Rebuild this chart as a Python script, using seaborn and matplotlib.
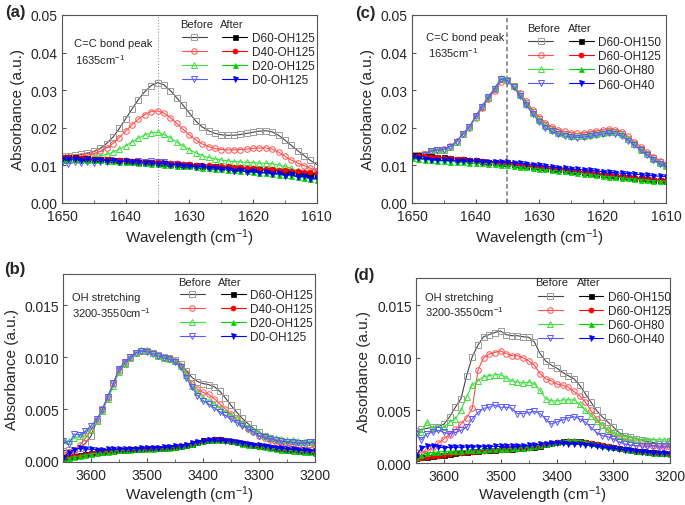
import matplotlib
matplotlib.use("Agg")
import matplotlib.pyplot as plt
import seaborn as sns
import numpy as np
from matplotlib.ticker import MultipleLocator, FormatStrFormatter

# wavenumber grids (cm-1)
wn_cc = np.arange(1650, 1609, -1)
wn_oh = np.arange(3650, 3199, -10)

# C=C region, absorbance in units of 1e-4
a_before_d60 = [125, 126, 127, 129, 132, 137, 145, 158, 175, 198, 224, 250, 275, 296, 312, 320, 314, 299, 280, 260, 239,
                218, 202, 192, 185, 181, 180, 180, 182, 185, 188, 191, 192, 189, 180, 167, 153, 139, 126, 113, 102]
a_before_d40 = [120, 121, 122, 124, 127, 131, 137, 146, 158, 174, 191, 208, 223, 235, 243, 245, 239, 227, 212, 196, 181,
                168, 157, 150, 145, 142, 141, 141, 142, 143, 145, 146, 146, 143, 135, 124, 114, 106, 99, 92, 86]
a_before_d20 = [117, 117, 118, 119, 120, 122, 125, 129, 135, 143, 152, 162, 172, 181, 187, 188, 182, 173, 162, 152, 142,
                133, 126, 121, 117, 114, 112, 110, 109, 108, 107, 106, 105, 104, 101, 97, 92, 86, 81, 77, 73]
a_before_d0 = [107, 104, 108, 105, 109, 106, 110, 108, 111, 109, 112, 110, 112, 110, 111, 109, 108, 104, 104, 100, 100,
               96, 96, 92, 93, 89, 90, 86, 87, 83, 84, 80, 81, 77, 78, 74, 75, 71, 72, 68, 69]
a_after_d60 = [122, 121, 121, 120, 119, 118, 117, 116, 115, 113, 112, 111, 110, 109, 108, 106, 105, 104, 103, 102, 101,
               100, 99, 98, 97, 96, 95, 94, 92, 91, 90, 89, 88, 87, 86, 84, 83, 81, 80, 78, 76]
a_after_d40 = [121, 121, 120, 120, 119, 118, 117, 116, 115, 114, 113, 112, 111, 110, 109, 108, 107, 106, 105, 104, 103,
               102, 101, 100, 99, 98, 97, 96, 95, 94, 93, 91, 90, 89, 88, 87, 86, 84, 83, 81, 79]
a_after_d20 = [117, 117, 116, 116, 115, 114, 113, 112, 111, 110, 109, 108, 106, 105, 104, 103, 102, 100, 99, 98, 97,
               95, 94, 93, 91, 90, 88, 87, 85, 84, 82, 80, 79, 77, 75, 74, 72, 70, 67, 64, 62]
a_after_d0 = [117, 116, 117, 115, 116, 114, 115, 112, 113, 110, 111, 108, 109, 105, 107, 103, 105, 100, 102, 98, 99,
              95, 97, 92, 94, 89, 91, 86, 88, 82, 85, 79, 82, 76, 79, 72, 76, 68, 72, 64, 66]

c_before_oh150 = [127, 128, 129, 139, 141, 142, 150, 163, 183, 201, 228, 255, 280, 302, 330, 326, 310, 289, 265, 242, 222,
                  206, 196, 189, 184, 180, 178, 180, 182, 185, 188, 190, 189, 183, 170, 157, 143, 130, 119, 108, 100]
c_before_oh125 = [126, 127, 129, 138, 141, 143, 151, 164, 182, 200, 226, 252, 276, 298, 322, 323, 312, 293, 270, 248, 229,
                  213, 202, 195, 190, 186, 185, 186, 188, 191, 194, 196, 195, 189, 177, 163, 150, 136, 123, 112, 103]
c_before_oh80 = [124, 125, 127, 137, 140, 141, 149, 162, 182, 201, 229, 257, 283, 306, 333, 328, 310, 288, 263, 240, 220,
                 204, 194, 187, 182, 178, 177, 178, 181, 184, 187, 189, 188, 182, 169, 156, 142, 129, 117, 106, 98]
c_before_oh40 = [125, 126, 128, 138, 141, 142, 150, 163, 184, 203, 230, 256, 281, 303, 329, 325, 307, 285, 260, 236, 216,
                 200, 190, 183, 178, 175, 174, 175, 177, 180, 183, 185, 184, 178, 166, 153, 140, 127, 115, 104, 97]
c_after_oh150 = [128, 127, 125, 124, 122, 121, 120, 118, 117, 115, 113, 112, 110, 109, 107, 105, 103, 101, 99, 97, 95,
                 93, 91, 90, 88, 86, 84, 82, 80, 78, 76, 74, 72, 71, 69, 67, 65, 64, 62, 61, 59]
c_after_oh125 = [126, 125, 124, 123, 121, 120, 119, 117, 116, 114, 113, 111, 110, 108, 107, 105, 104, 102, 100, 98, 96,
                 94, 92, 91, 89, 87, 85, 83, 81, 79, 77, 75, 73, 72, 70, 68, 66, 65, 63, 62, 60]
c_after_oh80 = [119, 117, 115, 113, 112, 111, 110, 109, 108, 107, 106, 105, 104, 103, 101, 100, 98, 96, 95, 93, 91,
                89, 87, 86, 84, 82, 80, 78, 76, 74, 72, 70, 69, 67, 65, 64, 62, 61, 59, 58, 57]
c_after_oh40 = [121, 119, 117, 115, 114, 113, 113, 112, 112, 111, 111, 110, 110, 109, 109, 108, 107, 106, 104, 102, 100,
                98, 96, 94, 92, 90, 89, 88, 87, 85, 83, 82, 80, 79, 78, 77, 75, 73, 72, 71, 70]

# OH region, absorbance in units of 1e-5
b_before_d60 = [100, 104, 110, 125, 170, 240, 380, 500, 620, 750, 880, 940, 1000, 1040, 1060, 1060, 1040, 1020, 1000, 995,
                975, 935, 870, 805, 765, 745, 735, 715, 670, 605, 535, 470, 410, 360, 315, 280, 245, 220, 200, 190,
                180, 172, 165, 165, 168, 170]
b_before_d40 = [70, 90, 110, 150, 220, 300, 390, 490, 610, 740, 870, 940, 990, 1035, 1055, 1055, 1035, 1015, 995, 985,
                960, 915, 845, 740, 690, 660, 640, 600, 550, 500, 450, 400, 360, 310, 280, 240, 220, 200, 180, 170,
                165, 160, 155, 150, 150, 150]
b_before_d20 = [200, 190, 220, 240, 270, 310, 380, 480, 600, 720, 860, 935, 990, 1040, 1065, 1070, 1040, 1015, 995, 985,
                960, 915, 830, 720, 660, 610, 580, 550, 510, 470, 440, 400, 370, 330, 300, 270, 240, 230, 220, 210,
                200, 200, 190, 180, 180, 190]
b_before_d0 = [190, 160, 260, 250, 290, 340, 400, 490, 620, 750, 890, 950, 1000, 1040, 1060, 1050, 1030, 1010, 990, 980,
               950, 900, 800, 710, 630, 580, 550, 510, 470, 440, 400, 370, 340, 310, 280, 240, 230, 210, 200, 190,
               185, 180, 175, 175, 178, 180]
b_after_d60 = [35, 40, 48, 55, 65, 75, 82, 88, 95, 100, 105, 110, 112, 115, 118, 120, 122, 125, 128, 132, 138, 145, 155,
               168, 185, 198, 205, 210, 210, 205, 195, 185, 175, 165, 155, 148, 140, 130, 122, 115, 110, 105, 100, 95,
               92, 90]
b_after_d40 = [30, 38, 45, 52, 62, 72, 80, 86, 92, 98, 103, 108, 111, 114, 117, 119, 121, 124, 127, 131, 137, 144, 154,
               167, 183, 196, 204, 208, 208, 203, 193, 183, 173, 163, 154, 146, 138, 129, 121, 114, 108, 103, 98, 94,
               90, 88]
b_after_d20 = [25, 32, 40, 48, 58, 68, 76, 83, 90, 96, 101, 106, 109, 112, 115, 117, 119, 122, 125, 128, 134, 141, 150,
               163, 178, 190, 198, 202, 202, 197, 188, 178, 168, 158, 149, 141, 133, 124, 116, 109, 103, 98, 93, 88,
               84, 80]
b_after_d0 = [30, 80, 110, 120, 115, 112, 110, 110, 112, 113, 115, 116, 118, 119, 120, 122, 124, 127, 130, 134, 140, 147,
              157, 170, 183, 193, 198, 200, 200, 196, 188, 180, 172, 164, 156, 150, 143, 135, 128, 122, 117, 112, 107,
              103, 100, 98]

d_before_oh150 = [300, 320, 330, 340, 345, 370, 440, 530, 610, 830, 1010, 1120, 1200, 1220, 1240, 1255, 1220, 1210, 1210,
                  1200, 1195, 1150, 1040, 970, 930, 900, 860, 830, 800, 740, 660, 580, 500, 440, 390, 340, 290, 260,
                  250, 230, 220, 205, 195, 185, 180, 210]
d_before_oh125 = [100, 95, 110, 150, 190, 230, 270, 320, 370, 430, 520, 880, 1000, 1035, 1050, 1065, 1040, 1020, 1020,
                  1000, 970, 930, 850, 800, 780, 750, 740, 720, 680, 640, 580, 500, 420, 360, 310, 260, 230, 210, 200,
                  190, 180, 170, 165, 160, 155, 150]
d_before_oh80 = [290, 290, 390, 330, 340, 340, 390, 420, 500, 630, 740, 780, 820, 830, 840, 840, 810, 780, 770, 760, 770,
                 750, 690, 610, 590, 590, 600, 600, 600, 560, 500, 450, 400, 360, 320, 290, 270, 250, 240, 230, 220,
                 220, 220, 220, 220, 220]
d_before_oh40 = [280, 220, 280, 290, 310, 290, 280, 290, 310, 340, 420, 480, 520, 530, 550, 530, 530, 520, 470, 470, 480,
                 490, 470, 420, 370, 390, 410, 430, 440, 420, 390, 340, 290, 260, 250, 230, 200, 180, 170, 165, 162,
                 160, 160, 160, 160, 160]
d_after_oh150 = [50, 55, 60, 65, 72, 80, 88, 95, 100, 105, 110, 115, 120, 124, 127, 130, 132, 135, 138, 142, 148, 155,
                 165, 178, 190, 198, 205, 210, 210, 205, 198, 190, 180, 170, 160, 150, 140, 130, 122, 115, 110, 105, 100,
                 96, 92, 90]
d_after_oh125 = [40, 45, 55, 62, 70, 78, 85, 92, 98, 103, 108, 113, 118, 122, 125, 128, 130, 133, 136, 140, 146, 153,
                 163, 176, 188, 196, 203, 208, 208, 203, 196, 188, 178, 168, 158, 148, 138, 128, 120, 113, 108, 103, 98,
                 94, 90, 88]
d_after_oh80 = [60, 75, 95, 100, 105, 110, 112, 115, 118, 120, 122, 125, 128, 130, 132, 134, 136, 139, 142, 146, 152, 160,
                170, 182, 194, 203, 210, 215, 218, 212, 203, 193, 183, 172, 162, 152, 142, 132, 124, 116, 110, 104, 99,
                95, 92, 90]
d_after_oh40 = [70, 140, 160, 165, 150, 145, 148, 150, 150, 152, 153, 155, 155, 156, 157, 158, 158, 160, 162, 165, 168,
                172, 178, 185, 190, 192, 188, 185, 183, 180, 175, 168, 160, 152, 145, 138, 132, 126, 120, 114, 108, 103,
                99, 96, 93, 90]

names_dose = ["D60-OH125", "D40-OH125", "D20-OH125", "D0-OH125"]
names_oh = ["D60-OH150", "D60-OH125", "D60-OH80", "D60-OH40"]

sns.set_theme(style="ticks")
plt.rcParams["font.family"] = ["Liberation Sans", "DejaVu Sans"]
plt.rcParams["mathtext.fontset"] = "custom"
plt.rcParams["mathtext.rm"] = "Liberation Sans"
plt.rcParams["mathtext.it"] = "Liberation Sans:italic"
plt.rcParams["mathtext.bf"] = "Liberation Sans:bold"

markers = ["s", "o", "^", "v"]
before_cols = ["#444444", "#ff5050", "#3ee03e", "#5a5aff"]
before_edge = ["#9a9a9a", "#ff5050", "#3ee03e", "#5a5aff"]
after_cols = ["#000000", "#ff0000", "#00d000", "#0000ff"]


def draw_panel(ax, wn, before, after, names, scale, xpad):
    lines_b, lines_a = [], []
    for vals, col, edge, mk in zip(before, before_cols, before_edge, markers):
        sns.lineplot(x=wn, y=np.array(vals) * scale, ax=ax, color=col, marker=mk, markersize=4,
                     markerfacecolor="none", markeredgecolor=edge, markeredgewidth=0.7,
                     linewidth=0.8, legend=False)
        lines_b.append(ax.lines[-1])
    for vals, col, mk in zip(after, after_cols, markers):
        sns.lineplot(x=wn, y=np.array(vals) * scale, ax=ax, color=col, marker=mk, markersize=3.6,
                     markerfacecolor=col, markeredgecolor=col, markeredgewidth=0.5,
                     linewidth=0.8, legend=False)
        lines_a.append(ax.lines[-1])
    for sp in ax.spines.values():
        sp.set_color("#555555")
        sp.set_linewidth(0.8)
    ax.tick_params(which="major", direction="in", length=3, width=0.8, labelsize=10, color="#555555", pad=3)
    ax.tick_params(axis="x", which="major", pad=4.5)
    ax.tick_params(which="minor", direction="in", length=2, width=0.6, color="#555555")
    ax.set_ylabel("Absorbance (a.u.)", fontsize=11)
    ax.set_xlabel("Wavelength (cm$^{-1}$)", fontsize=11, labelpad=xpad)
    return lines_b, lines_a


def add_legend(ax, lines_b, lines_a, names, x_txt, y_txt, x_after, anchor):
    leg = ax.legend(lines_b + lines_a, [""] * 4 + names, ncol=2, frameon=False, fontsize=8.5,
                    loc="upper left", bbox_to_anchor=anchor, borderpad=0, borderaxespad=0,
                    handlelength=2.1, handletextpad=0.4, columnspacing=0.95, labelspacing=0.18)
    ax.text(x_txt, y_txt, "Before", transform=ax.transAxes, fontsize=8, va="center", ha="left")
    ax.text(x_after, y_txt, "After", transform=ax.transAxes, fontsize=8, va="center", ha="left")
    return leg


fig = plt.figure(figsize=(6.85, 5.06), dpi=100)
ax_a = fig.add_axes([0.0905, 0.597, 0.372, 0.3715])
ax_c = fig.add_axes([0.6015, 0.597, 0.371, 0.3715])
ax_b = fig.add_axes([0.092, 0.085, 0.368, 0.3715])
ax_d = fig.add_axes([0.607, 0.083, 0.371, 0.366])

# (a)
ax_a.axvline(1635, color="#9a9a9a", linestyle=":", linewidth=0.8)
lb, la = draw_panel(ax_a, wn_cc, [a_before_d60, a_before_d40, a_before_d20, a_before_d0],
                    [a_after_d60, a_after_d40, a_after_d20, a_after_d0], names_dose, 1e-4, 2.5)
ax_a.set_xlim(1650, 1610)
ax_a.set_ylim(0, 0.05)
ax_a.xaxis.set_major_locator(MultipleLocator(10))
ax_a.xaxis.set_minor_locator(MultipleLocator(5))
ax_a.yaxis.set_major_locator(MultipleLocator(0.01))
ax_a.yaxis.set_major_formatter(FormatStrFormatter("%.2f"))
add_legend(ax_a, lb, la, names_dose, 0.463, 0.952, 0.62, (0.47, 0.91))
ax_a.text(0.047, 0.851, "C=C bond peak", transform=ax_a.transAxes, fontsize=8, va="center")
ax_a.text(0.051, 0.766, "1635cm$^{-1}$", transform=ax_a.transAxes, fontsize=8, va="center")

# (c)
ax_c.axvline(1635, color="#8a8a8a", linestyle="--", linewidth=1.3, dashes=(2.5, 1.5))
lb, la = draw_panel(ax_c, wn_cc, [c_before_oh150, c_before_oh125, c_before_oh80, c_before_oh40],
                    [c_after_oh150, c_after_oh125, c_after_oh80, c_after_oh40], names_oh, 1e-4, 2.5)
ax_c.set_xlim(1650, 1610)
ax_c.set_ylim(0, 0.05)
ax_c.xaxis.set_major_locator(MultipleLocator(10))
ax_c.xaxis.set_minor_locator(MultipleLocator(5))
ax_c.yaxis.set_major_locator(MultipleLocator(0.01))
ax_c.yaxis.set_major_formatter(FormatStrFormatter("%.2f"))
add_legend(ax_c, lb, la, names_oh, 0.453, 0.931, 0.614, (0.457, 0.887))
ax_c.text(0.055, 0.883, "C=C bond peak", transform=ax_c.transAxes, fontsize=8, va="center")
ax_c.text(0.063, 0.803, "1635cm$^{-1}$", transform=ax_c.transAxes, fontsize=8, va="center")

# (b)
lb, la = draw_panel(ax_b, wn_oh, [b_before_d60, b_before_d40, b_before_d20, b_before_d0],
                    [b_after_d60, b_after_d40, b_after_d20, b_after_d0], names_dose, 1e-5, 1)
ax_b.set_xlim(3650, 3200)
ax_b.set_ylim(-0.0001, 0.018)
ax_b.xaxis.set_major_locator(MultipleLocator(100))
ax_b.xaxis.set_minor_locator(MultipleLocator(50))
ax_b.yaxis.set_major_locator(MultipleLocator(0.005))
ax_b.yaxis.set_major_formatter(FormatStrFormatter("%.3f"))
add_legend(ax_b, lb, la, names_dose, 0.457, 0.957, 0.615, (0.464, 0.92))
ax_b.text(0.035, 0.879, "OH stretching", transform=ax_b.transAxes, fontsize=8, va="center")
ax_b.text(0.035, 0.80, "3200-3550cm$^{-1}$", transform=ax_b.transAxes, fontsize=8, va="center")

# (d)
lb, la = draw_panel(ax_d, wn_oh, [d_before_oh150, d_before_oh125, d_before_oh80, d_before_oh40],
                    [d_after_oh150, d_after_oh125, d_after_oh80, d_after_oh40], names_oh, 1e-5, 0)
ax_d.set_xlim(3650, 3200)
ax_d.set_ylim(0, 0.0176)
ax_d.xaxis.set_major_locator(MultipleLocator(100))
ax_d.xaxis.set_minor_locator(MultipleLocator(50))
ax_d.yaxis.set_major_locator(MultipleLocator(0.005))
ax_d.yaxis.set_major_formatter(FormatStrFormatter("%.3f"))
add_legend(ax_d, lb, la, names_oh, 0.469, 0.979, 0.634, (0.48, 0.93))
ax_d.text(0.035, 0.897, "OH stretching", transform=ax_d.transAxes, fontsize=8, va="center")
ax_d.text(0.035, 0.82, "3200-3550cm$^{-1}$", transform=ax_d.transAxes, fontsize=8, va="center")

fig.text(0.007, 0.976, "(a)", fontsize=12, fontweight="bold", va="center")
fig.text(0.518, 0.974, "(c)", fontsize=12, fontweight="bold", va="center")
fig.text(0.006, 0.468, "(b)", fontsize=12, fontweight="bold", va="center")
fig.text(0.515, 0.455, "(d)", fontsize=12, fontweight="bold", va="center")

fig.savefig("out.png", dpi=100)
